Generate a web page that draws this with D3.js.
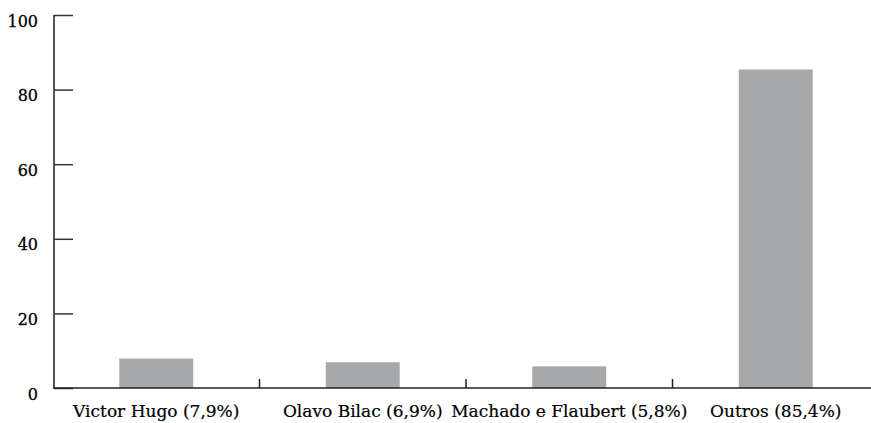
<!DOCTYPE html>
<html><head><meta charset="utf-8">
<script src="https://cdn.jsdelivr.net/npm/d3@7"></script>
<style>body{margin:0;background:#fff}svg{display:block}</style>
</head><body>
<svg id="c" width="871" height="423"></svg>
<script>
const categories = ["Victor Hugo (7,9%)", "Olavo Bilac (6,9%)", "Machado e Flaubert (5,8%)", "Outros (85,4%)"];
const values = [7.9, 6.9, 5.8, 85.4];
const yTicks = [0, 20, 40, 60, 80, 100];

const svg = d3.select("#c");
const font = "'DejaVu Serif', serif";
const x = d3.scaleBand().domain(categories).range([53, 879]).paddingInner(0.642).paddingOuter(0.321);
const y = d3.scaleLinear().domain([0, 100]).range([388, 15]);
const axisColor = "#555";

// bars
svg.selectAll("rect.bar").data(values).enter().append("rect")
  .attr("class", "bar")
  .attr("x", (d, i) => x(categories[i]))
  .attr("width", x.bandwidth())
  .attr("y", d => y(d))
  .attr("height", d => y(0) - y(d))
  .attr("fill", "#a7a8aa");

// y axis
const ya = svg.append("g").attr("transform", "translate(54,0)")
  .call(d3.axisRight(y).tickValues(yTicks).tickSize(19).tickFormat(""));
ya.select(".domain").attr("stroke", axisColor).attr("stroke-width", 2).attr("d", `M0,${y(100)}V${y(0)}`);
ya.selectAll(".tick line").attr("stroke", "#333").attr("stroke-width", 1.5);
svg.selectAll("text.ylab").data(yTicks).enter().append("text")
  .attr("class", "ylab")
  .attr("x", 38).attr("y", d => y(d) + 7)
  .attr("text-anchor", "end").attr("dominant-baseline", "middle")
  .attr("font-family", font).attr("font-size", 16).attr("fill", "#000")
  .attr("stroke", "#000").attr("stroke-width", 0.3)
  .text(d => d);

// x axis
const bounds = categories.slice(1).map(c => x(c) - x.step() * x.paddingInner() / 2);
svg.append("line").attr("x1", 53).attr("x2", 871).attr("y1", y(0)).attr("y2", y(0))
  .attr("stroke", "#222").attr("stroke-width", 1.5);
svg.selectAll("line.xt").data(bounds).enter().append("line")
  .attr("class", "xt")
  .attr("x1", d => d).attr("x2", d => d)
  .attr("y1", y(0)).attr("y2", y(0) - 9)
  .attr("stroke", "#222").attr("stroke-width", 1.5);
svg.selectAll("text.xlab").data(categories).enter().append("text")
  .attr("class", "xlab")
  .attr("x", d => x(d) + x.bandwidth() / 2).attr("y", 412)
  .attr("text-anchor", "middle").attr("dominant-baseline", "middle")
  .attr("font-family", font).attr("font-size", 17).attr("fill", "#000")
  .attr("stroke", "#000").attr("stroke-width", 0.2)
  .text(d => d);
</script>
</body></html>
